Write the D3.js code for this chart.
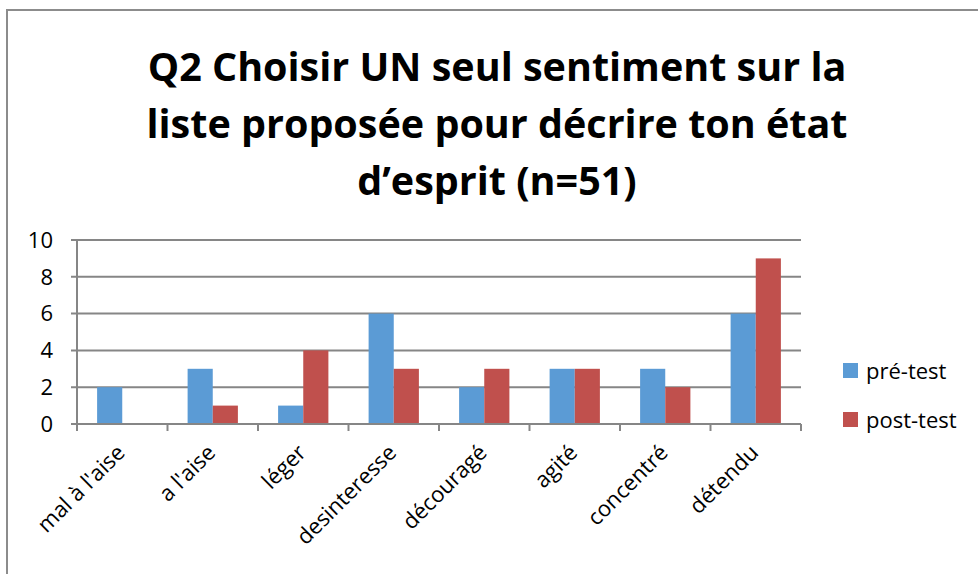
<!DOCTYPE html>
<html>
<head>
<meta charset="utf-8">
<script src="https://cdn.jsdelivr.net/npm/d3@7"></script>
<style>
  body { margin: 0; background: #fff; }
  svg { display: block; font-family: "Open Sans", sans-serif; }
</style>
</head>
<body>
<svg id="chart" width="978" height="574"></svg>
<script>
// chart data
const categories = ["mal à l'aise", "a l'aise", "léger", "desinteresse", "découragé", "agité", "concentré", "détendu"];
const preTest = [2, 3, 1, 6, 2, 3, 3, 6];
const postTest = [0, 1, 4, 3, 3, 3, 2, 9];
const seriesNames = ["pré-test", "post-test"];
const yTicks = [0, 2, 4, 6, 8, 10];
const titleLines = ["Q2 Choisir UN seul sentiment sur la", "liste proposée pour décrire ton état", "d’esprit (n=51)"];

const colors = ["#5B9BD5", "#C0504D"];
const svg = d3.select("#chart");

// outer frame
svg.append("rect")
  .attr("x", 7).attr("y", 10).attr("width", 1000).attr("height", 600)
  .attr("fill", "#fff").attr("stroke", "#8c8c8c").attr("stroke-width", 2);

// title
svg.append("g").selectAll("text").data(titleLines).enter()
  .append("text")
  .attr("x", 497).attr("y", (d, i) => 81 + i * 57)
  .attr("text-anchor", "middle")
  .attr("font-size", 39.5).attr("font-weight", "bold")
  .attr("fill", "#000")
  .text(d => d);

const plotL = 77, plotR = 801, plotT = 240, plotB = 424;

const x = d3.scaleBand().domain(categories).range([plotL, plotR]).paddingInner(0).paddingOuter(0);
const xs = d3.scaleBand().domain(seriesNames).range([0, x.bandwidth()]).paddingInner(0).paddingOuter(0.8);
const y = d3.scaleLinear().domain([0, 10]).range([plotB, plotT]);

// gridlines
svg.append("g").selectAll("line").data(yTicks).enter()
  .append("line")
  .attr("x1", plotL - 6).attr("x2", plotR)
  .attr("y1", d => y(d)).attr("y2", d => y(d))
  .attr("stroke", "#868686").attr("stroke-width", 2);

// y axis line
svg.append("line")
  .attr("x1", plotL).attr("x2", plotL).attr("y1", plotT).attr("y2", plotB + 6)
  .attr("stroke", "#868686").attr("stroke-width", 2);

// y labels
svg.append("g").selectAll("text").data(yTicks).enter()
  .append("text")
  .attr("x", plotL - 24).attr("y", d => y(d))
  .attr("dy", "0.35em")
  .attr("text-anchor", "end")
  .attr("font-size", 22).attr("fill", "#000")
  .text(d => d);

// bars
const series = [preTest, postTest];
series.forEach((vals, si) => {
  svg.append("g").selectAll("rect").data(vals).enter()
    .append("rect")
    .attr("x", (d, i) => x(categories[i]) + xs(seriesNames[si]))
    .attr("y", d => y(d))
    .attr("width", xs.bandwidth())
    .attr("height", d => y(0) - y(d))
    .attr("fill", colors[si]);
});

// x axis
svg.append("line")
  .attr("x1", plotL).attr("x2", plotR).attr("y1", plotB).attr("y2", plotB)
  .attr("stroke", "#868686").attr("stroke-width", 2);
const boundaries = categories.map(c => x(c)).concat([plotR]);
svg.append("g").selectAll("line").data(boundaries).enter()
  .append("line")
  .attr("x1", d => d).attr("x2", d => d)
  .attr("y1", plotB).attr("y2", plotB + 7)
  .attr("stroke", "#868686").attr("stroke-width", 2);

// x labels rotated
svg.append("g").selectAll("text").data(categories).enter()
  .append("text")
  .attr("transform", d => `translate(${x(d) + x.bandwidth() / 2 + 4},${plotB + 30}) rotate(-45)`)
  .attr("text-anchor", "end")
  .attr("font-size", 22).attr("fill", "#000")
  .text(d => d);

// legend
const legend = svg.append("g").selectAll("g").data(seriesNames).enter()
  .append("g")
  .attr("transform", (d, i) => `translate(843,${363 + i * 49})`);
legend.append("rect").attr("width", 15).attr("height", 15).attr("fill", (d, i) => colors[i]);
legend.append("text")
  .attr("x", 23).attr("y", 8).attr("dy", "0.35em")
  .attr("font-size", 22).attr("fill", "#000")
  .text(d => d);
</script>
</body>
</html>
